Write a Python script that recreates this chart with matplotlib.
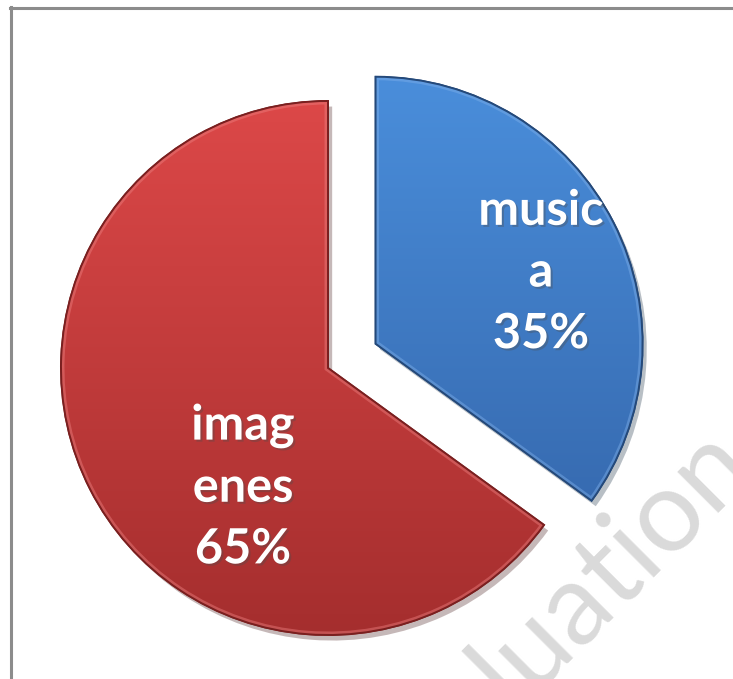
import numpy as np
import matplotlib
matplotlib.use("Agg")
from matplotlib import pyplot as plt
from matplotlib import patheffects
from matplotlib.colors import LinearSegmentedColormap
from matplotlib.lines import Line2D
from matplotlib.patches import PathPatch

# slice data
labels = [["music", "a"], ["imag", "enes"]]
values = [35, 65]
top_colors = ["#4a8edb", "#dc4848"]
bottom_colors = ["#3262a6", "#a52e2e"]
edge_colors = ["#24497a", "#7a1f1f"]
rim_colors = ["#7fb0ea", "#ec8080"]

W, H = 733, 679
fig = plt.figure(figsize=(W / 100, H / 100), dpi=100)
ax = fig.add_axes([0, 0, 1, 1])

# frame around the chart area
fig.add_artist(Line2D([10.5 / W, 10.5 / W], [0, 1 - 7 / H], color="#8c8c8c", lw=2.2))
fig.add_artist(Line2D([10 / W, 1], [1 - 7.5 / H, 1 - 7.5 / H], color="#8c8c8c", lw=2.2))

# watermark
ax.text(385, H - 836, "Evaluation", fontsize=82, family="Lato", color="#dadada",
        rotation=45, rotation_mode="anchor", ha="left", va="baseline", zorder=0,
        clip_on=False)

center = (328, H - 368)
radius = 267
wedges, _ = ax.pie(values, center=center, radius=radius, startangle=90,
                   counterclock=False, explode=[0.2 * radius, 0],
                   colors=top_colors, frame=True)
ax.set_xlim(0, W)
ax.set_ylim(0, H)
ax.set_aspect("equal")
ax.axis("off")

grad = np.linspace(0, 1, 256).reshape(-1, 1)
for w, c_top, c_bot, c_edge, c_rim in zip(wedges, top_colors, bottom_colors,
                                          edge_colors, rim_colors):
    w.set_edgecolor(c_edge)
    w.set_linewidth(1.2)
    w.set_zorder(2)
    w.set_path_effects([patheffects.SimplePatchShadow(offset=(3, -4), alpha=0.3),
                        patheffects.Normal()])
    cx, cy = w.center
    cmap = LinearSegmentedColormap.from_list("g", [c_bot, c_top])
    im = ax.imshow(grad, cmap=cmap, origin="lower", aspect="auto",
                   extent=[cx - radius, cx + radius, cy - radius, cy + radius],
                   zorder=3)
    im.set_clip_path(w)
    # soft bevel: light inner rim, dark outer edge
    hi = PathPatch(w.get_path(), fill=False, edgecolor=c_rim, lw=5, alpha=0.45,
                   zorder=4, transform=ax.transData)
    hi.set_clip_path(w)
    ax.add_patch(hi)
    rim = PathPatch(w.get_path(), fill=False, edgecolor=c_edge, lw=1.4,
                    zorder=4, transform=ax.transData)
    ax.add_patch(rim)

# data labels
label_pos = [(541, H - 272), (243, H - 487)]
shadow = [patheffects.withSimplePatchShadow(offset=(1.5, -1.5), alpha=0.35)]
for (x, y), name, v in zip(label_pos, labels, values):
    txt = "\n".join(name + [f"{v}%"])
    ax.text(x, y, txt, ha="center", va="center", fontsize=35, fontweight="bold",
            family="Lato", color="white", linespacing=1.45, zorder=5,
            path_effects=shadow)

fig.savefig("out.png", dpi=100)
